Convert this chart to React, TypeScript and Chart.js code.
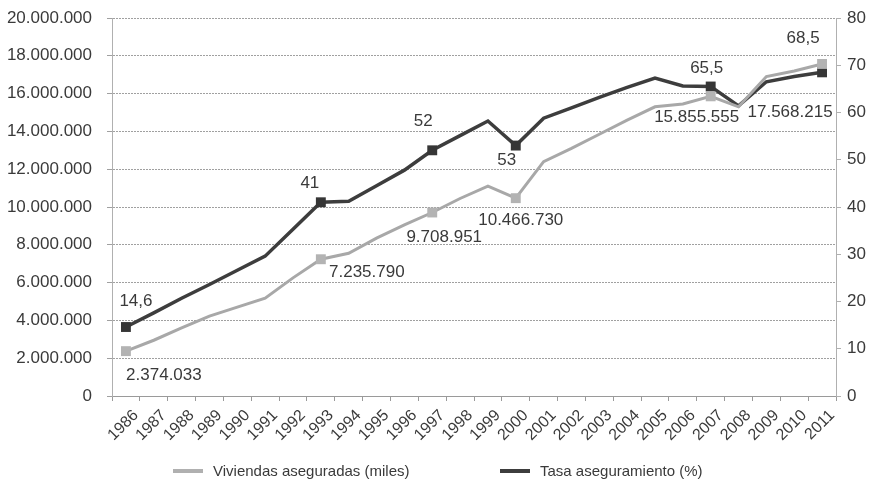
import React, { useEffect, useRef } from "react";
import { Chart, registerables } from "chart.js";

Chart.register(...registerables);

// Years on the category axis
const years = [
  "1986", "1987", "1988", "1989", "1990", "1991", "1992", "1993", "1994",
  "1995", "1996", "1997", "1998", "1999", "2000", "2001", "2002", "2003",
  "2004", "2005", "2006", "2007", "2008", "2009", "2010", "2011",
];

// Viviendas aseguradas (left axis)
const viviendas = [
  2374033, 2950000, 3600000, 4230000, 4700000, 5180000, 6250000, 7235790,
  7550000, 8350000, 9050000, 9708951, 10450000, 11100000, 10466730, 12400000,
  13100000, 13850000, 14600000, 15300000, 15450000, 15855555, 15300000,
  16900000, 17200000, 17568215,
];

// Tasa de aseguramiento en % (right axis)
const tasa = [
  14.6, 17.6, 20.7, 23.6, 26.6, 29.6, 35.3, 41, 41.2, 44.5, 47.8, 52, 55.1,
  58.2, 53, 58.8, 61, 63.2, 65.3, 67.3, 65.6, 65.5, 61.4, 66.5, 67.6, 68.5,
];

// Left and right axis ranges
const leftMax = 20000000;
const leftStep = 2000000;
const rightMax = 80;
const rightStep = 10;

// Points that carry a marker and a value label
const labelledPoints = [0, 7, 11, 14, 21, 25];

// Label offsets (dx, dy in px) from each labelled point
const viviendasLabelOffsets = [
  [38, 24], [46, 13], [12, 25], [5, 22], [-14, 21], [-32, 48],
];
const tasaLabelOffsets = [
  [10, -26], [-11, -19], [-9, -29], [-9, 15], [-4, -18], [-19, -34],
];

const DARK = "#3d3d3d";
const LIGHT = "#a8a8a8";
const TEXT = "#3a3a3a";
const FONT = "'Liberation Sans', Arial, sans-serif";

const dotted = (n: number) =>
  String(Math.round(n)).replace(/\B(?=(\d{3})+(?!\d))/g, ".");
const comma = (n: number) => String(n).replace(".", ",");

const valueLabels = {
  id: "valueLabels",
  afterDatasetsDraw(chart: any) {
    const ctx = chart.ctx;
    ctx.save();
    ctx.font = `17px ${FONT}`;
    ctx.fillStyle = TEXT;
    ctx.textAlign = "center";
    ctx.textBaseline = "middle";
    chart.data.datasets.forEach((ds: any, di: number) => {
      const meta = chart.getDatasetMeta(di);
      const offsets = ds.labelOffsets as number[][];
      labelledPoints.forEach((idx, k) => {
        const el = meta.data[idx];
        const v = ds.data[idx];
        const text = ds.yAxisID === "y" ? dotted(v) : comma(v);
        ctx.fillText(text, el.x + offsets[k][0], el.y + offsets[k][1]);
      });
    });
    ctx.restore();
  },
};

// Fixes a vertical axis' width and drops the label overflow padding
const fitVertical = (width: number) => (s: any) => {
  s.width = width;
  s.paddingTop = 0;
  s.paddingBottom = 0;
};

export default function App() {
  const canvasRef = useRef<HTMLCanvasElement>(null);

  useEffect(() => {
    if (!canvasRef.current) return;
    const markerRadius = (c: any) =>
      labelledPoints.includes(c.dataIndex) ? 7 : 0;

    const chart = new Chart(canvasRef.current, {
      type: "line",
      data: {
        labels: years,
        datasets: [
          {
            label: "Viviendas aseguradas (miles)",
            data: viviendas,
            yAxisID: "y",
            borderColor: LIGHT,
            backgroundColor: "#b3b3b3",
            borderWidth: 3,
            pointStyle: "rect",
            pointRadius: markerRadius,
            pointBorderWidth: 0,
            tension: 0,
            labelOffsets: viviendasLabelOffsets,
          } as any,
          {
            label: "Tasa aseguramiento (%)",
            data: tasa,
            yAxisID: "y2",
            borderColor: DARK,
            backgroundColor: "#363636",
            borderWidth: 3.5,
            pointStyle: "rect",
            pointRadius: markerRadius,
            pointBorderWidth: 0,
            tension: 0,
            labelOffsets: tasaLabelOffsets,
          } as any,
        ],
      },
      options: {
        responsive: false,
        animation: false,
        layout: { padding: { top: 18, left: 0, right: 0, bottom: 0 } },
        plugins: {
          legend: { display: false },
          tooltip: { enabled: false },
        },
        scales: {
          x: {
            type: "category",
            offset: true,
            grid: {
              offset: true,
              drawOnChartArea: false,
              drawTicks: true,
              tickLength: 5,
              color: "#9a9a9a",
            },
            border: { display: true, color: "#9a9a9a", width: 1 },
            ticks: {
              autoSkip: false,
              maxRotation: 45,
              minRotation: 45,
              labelOffset: 10,
              padding: 5,
              color: TEXT,
              font: { family: FONT, size: 16 },
            },
            afterFit: (s: any) => {
              s.height = 90;
            },
          },
          y: {
            position: "left",
            min: 0,
            max: leftMax,
            grid: {
              color: "#a0a0a0",
              lineWidth: 1,
              tickLength: 5,
            },
            border: { display: true, color: "#b0b0b0", width: 1, dash: [2, 1] },
            ticks: {
              stepSize: leftStep,
              padding: 15,
              color: TEXT,
              font: { family: FONT, size: 17 },
              callback: (v: any) => dotted(Number(v)),
            },
            afterFit: fitVertical(112),
          },
          y2: {
            position: "right",
            min: 0,
            max: rightMax,
            grid: {
              drawOnChartArea: false,
              tickLength: 5,
              color: "#b0b0b0",
            },
            border: { display: true, color: "#b0b0b0", width: 1 },
            ticks: {
              stepSize: rightStep,
              padding: 6,
              color: TEXT,
              font: { family: FONT, size: 17 },
            },
            afterFit: fitVertical(37),
          },
        },
      },
      plugins: [valueLabels],
    });
    return () => chart.destroy();
  }, []);

  const legendText: React.CSSProperties = {
    position: "absolute",
    top: 461,
    height: 20,
    lineHeight: "20px",
    fontFamily: FONT,
    fontSize: 15,
    color: TEXT,
    whiteSpace: "nowrap",
  };
  const swatch = (left: number, color: string): React.CSSProperties => ({
    position: "absolute",
    left,
    top: 469,
    width: 30,
    height: 4,
    background: color,
  });

  return (
    <div
      style={{
        position: "fixed",
        left: 0,
        top: 0,
        width: 873,
        height: 486,
        background: "#fff",
      }}
    >
      <canvas ref={canvasRef} width={873} height={486} style={{ display: "block" }} />
      <div style={swatch(173, "#b0b0b0")} />
      <div style={{ ...legendText, left: 213 }}>Viviendas aseguradas (miles)</div>
      <div style={swatch(500, DARK)} />
      <div style={{ ...legendText, left: 540 }}>Tasa aseguramiento (%)</div>
    </div>
  );
}
